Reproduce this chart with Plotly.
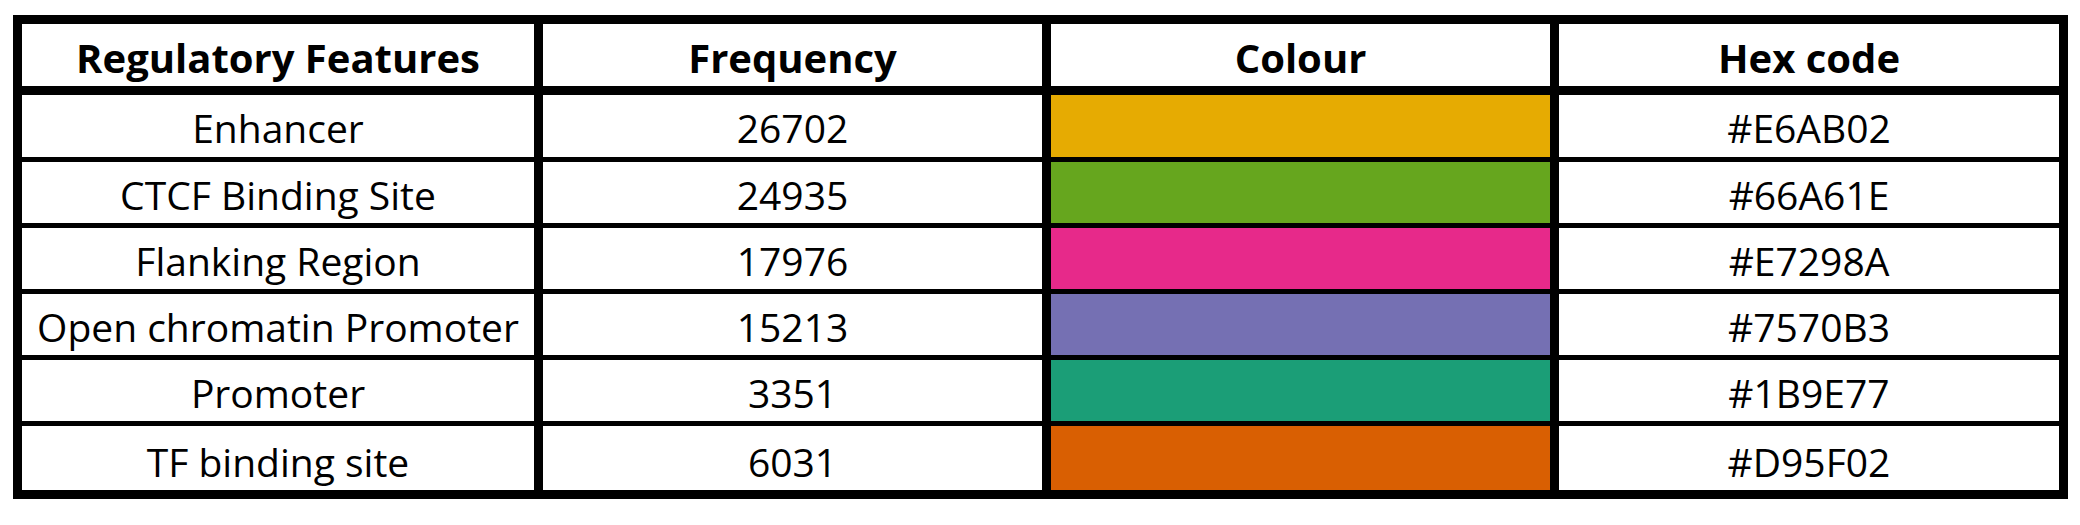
import plotly.graph_objects as go

# table content
headers = ["Regulatory Features", "Frequency", "Colour", "Hex code"]
features = ["Enhancer", "CTCF Binding Site", "Flanking Region",
            "Open chromatin Promoter", "Promoter", "TF binding site"]
frequency = [26702, 24935, 17976, 15213, 3351, 6031]
hex_codes = ["#E6AB02", "#66A61E", "#E7298A", "#7570B3", "#1B9E77", "#D95F02"]

W, H = 2080, 525
# grid line centres in pixels (x to the right, y downwards)
col_edges = [17.5, 538.5, 1046.5, 1554.5, 2063.5]
row_edges = [19.5, 90.5, 159.5, 225.5, 291.5, 357.5, 423.5, 494.5]
text_dy = 8  # text sits a little below the cell middle

fig = go.Figure()

col_mid = [(col_edges[i] + col_edges[i + 1]) / 2 for i in range(4)]
row_mid = [(row_edges[i] + row_edges[i + 1]) / 2 + text_dy for i in range(len(row_edges) - 1)]

# colour swatches
for i, c in enumerate(hex_codes):
    fig.add_shape(type="rect", xref="x", yref="y",
                  x0=col_edges[2], x1=col_edges[3],
                  y0=row_edges[i + 1], y1=row_edges[i + 2],
                  fillcolor=c, line=dict(width=0), layer="below")

# header text
fig.add_trace(go.Scatter(
    x=[col_mid[0], col_mid[1], col_mid[2], col_mid[3]],
    y=[row_mid[0]] * 4,
    mode="text", text=headers,
    textfont=dict(family="Open Sans", size=40, color="black", weight="bold"),
    hoverinfo="skip"))

# body text
n = len(features)
fig.add_trace(go.Scatter(
    x=[col_mid[0]] * n + [col_mid[1]] * n + [col_mid[3]] * n,
    y=row_mid[1:] * 3,
    mode="text",
    text=features + [str(v) for v in frequency] + hex_codes,
    textfont=dict(family="Open Sans", size=39, color="black"),
    hoverinfo="skip"))

# grid lines
for x in col_edges[1:-1]:
    fig.add_shape(type="line", xref="x", yref="y", x0=x, x1=x,
                  y0=row_edges[0], y1=row_edges[-1],
                  line=dict(color="black", width=9))
fig.add_shape(type="line", xref="x", yref="y", x0=col_edges[0], x1=col_edges[-1],
              y0=row_edges[1], y1=row_edges[1], line=dict(color="black", width=9))
for y in row_edges[2:-1]:
    fig.add_shape(type="line", xref="x", yref="y", x0=col_edges[0], x1=col_edges[-1],
                  y0=y, y1=y, line=dict(color="black", width=5))
fig.add_shape(type="rect", xref="x", yref="y",
              x0=col_edges[0], x1=col_edges[-1], y0=row_edges[0], y1=row_edges[-1],
              line=dict(color="black", width=9))

fig.update_layout(
    width=W, height=H,
    margin=dict(l=0, r=0, t=0, b=0),
    paper_bgcolor="white", plot_bgcolor="white",
    showlegend=False,
    xaxis=dict(range=[0, W], visible=False, fixedrange=True),
    yaxis=dict(range=[H, 0], visible=False, fixedrange=True),
)

fig.write_html("out.html", config={"displayModeBar": False},
               post_script="document.body.style.margin='0';document.body.style.overflow='hidden';")
